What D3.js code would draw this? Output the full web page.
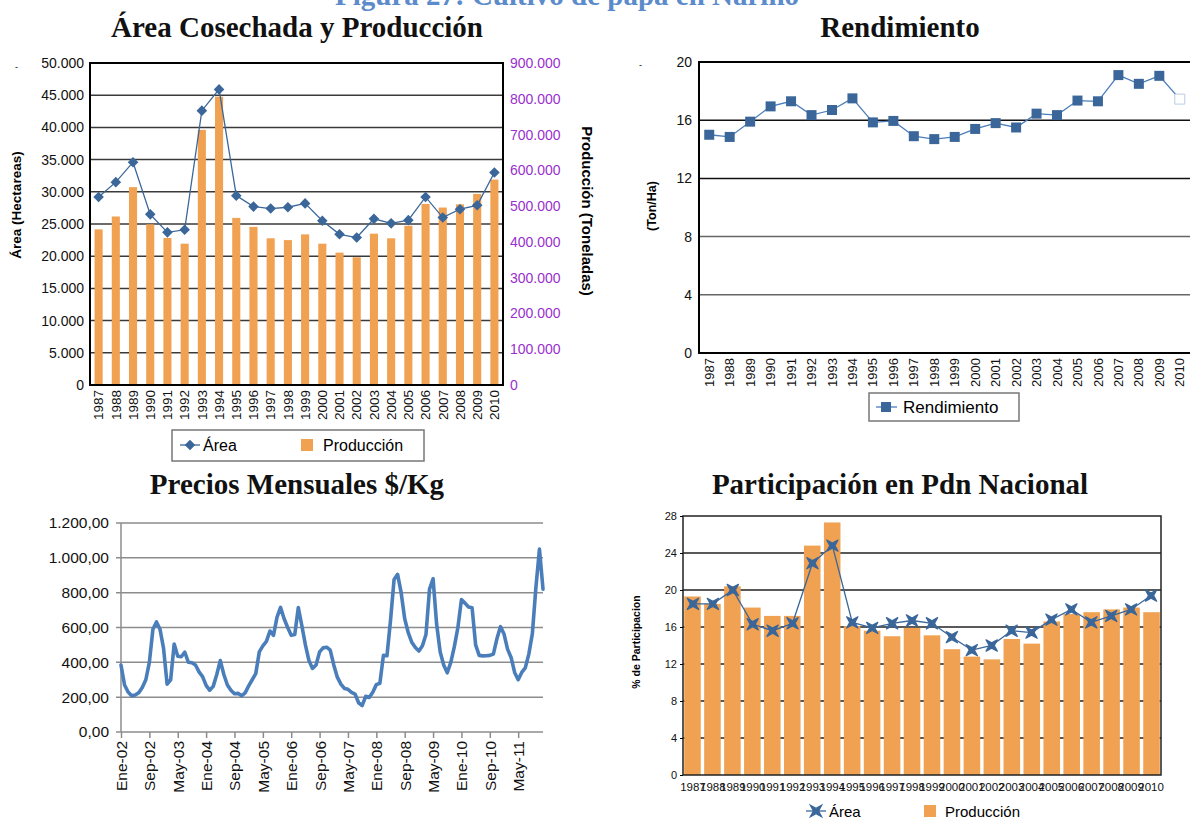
<!DOCTYPE html>
<html><head><meta charset="utf-8">
<script src="https://cdn.jsdelivr.net/npm/d3@7"></script>
<style>body{margin:0;background:#fff}svg{display:block}</style>
</head><body>
<svg id="c" width="1190" height="820"></svg>
<script>
// ---------- DATA ----------
const years = ["1987","1988","1989","1990","1991","1992","1993","1994","1995","1996","1997","1998",
  "1999","2000","2001","2002","2003","2004","2005","2006","2007","2008","2009","2010"];
const areaHa = [29200,31500,34600,26500,23700,24100,42600,45900,29400,27700,27400,27600,
  28200,25500,23400,22900,25800,25100,25600,29200,26000,27300,27900,33000];
const produccionTon = [435000,471000,553000,449000,411000,395000,713000,806000,467000,442000,410000,405000,
  421000,395000,370000,357000,423000,410000,445000,506000,496000,505000,534000,574000];
const rendimiento = [15.0,14.85,15.9,16.95,17.3,16.35,16.7,17.5,15.85,15.95,14.9,14.7,
  14.85,15.4,15.8,15.5,16.45,16.35,17.35,17.3,19.1,18.5,19.05,17.45];
const partProduccion = [19.3,18.5,20.4,18.1,17.2,17.2,24.8,27.3,16.1,15.6,15.0,15.9,
  15.1,13.6,12.8,12.5,14.7,14.2,16.6,17.4,17.6,17.9,18.1,17.6];
const partArea = [18.5,18.5,20.0,16.3,15.6,16.4,22.9,24.8,16.5,15.9,16.4,16.7,
  16.4,14.9,13.5,14.0,15.6,15.4,16.8,17.9,16.5,17.2,17.9,19.4];
const mesesAbr = ["Ene","Feb","Mar","Abr","May","Jun","Jul","Ago","Sep","Oct","Nov","Dic"];
const aniosPrecio = ["02","03","04","05","06","07","08","09","10","11"];
const precios = [385,270,230,208,212,225,255,300,400,590,632,590,480,275,300,505,435,432,458,400,
  398,385,345,318,268,240,262,330,410,330,270,240,220,222,208,225,265,300,335,460,
  495,520,580,555,660,715,650,600,555,560,715,610,500,410,365,385,460,483,487,470,
  385,315,275,250,245,228,218,168,152,205,198,228,272,280,440,438,640,875,905,800,
  650,570,515,485,465,495,560,820,880,620,460,385,340,400,490,600,760,740,718,714,
  500,440,437,438,440,447,535,605,563,476,428,342,300,342,368,447,565,830,1050,820];
const precioTicks = ["Ene-02","Sep-02","May-03","Ene-04","Sep-04","May-05","Ene-06","Sep-06",
  "May-07","Ene-08","Sep-08","May-09","Ene-10","Sep-10","May-11"];
const ticksArea = [0,5000,10000,15000,20000,25000,30000,35000,40000,45000,50000];
const ticksProd = [0,100000,200000,300000,400000,500000,600000,700000,800000,900000];
const ticksRend = [0,4,8,12,16,20];
const ticksPrecio = [0,200,400,600,800,1000,1200];
const ticksPart = [0,4,8,12,16,20,24,28];

// ---------- SETUP ----------
const meses = [];
aniosPrecio.forEach(a => mesesAbr.forEach(m => meses.push(m + "-" + a)));
const svg = d3.select("#c");
const SANS = "'Liberation Sans', Arial, sans-serif";
const SERIF = "'Liberation Serif', 'Times New Roman', serif";
const loc = d3.formatLocale({decimal: ",", thousands: ".", grouping: [3], currency: ["$", ""]});
const fmtInt = loc.format(",");
const fmtDec = loc.format(",.2f");
const ORANGE = "#F0A252", BLUE = "#3A6699", LBLUE = "#4A7EBB", PURPLE = "#9A2FCF";

function title(txt, x, y, size, color) {
  svg.append("text").attr("x", x).attr("y", y).attr("text-anchor", "middle")
    .style("font-family", SERIF).style("font-weight", "bold").style("font-size", size + "px")
    .attr("fill", color || "#111").text(txt);
}
title("Figura 27: Cultivo de papa en Nariño", 567, 5, 29, "#5B8BCB");
title("Área Cosechada y Producción", 297, 37, 29);
title("Rendimiento", 900, 37, 29);
title("Precios Mensuales $/Kg", 297, 494, 29);
title("Participación en Pdn Nacional", 900, 494, 29);
svg.append("text").attr("x", 15).attr("y", 70).style("font", `9px ${SANS}`).text("-");
svg.append("text").attr("x", 639).attr("y", 68).style("font", `9px ${SANS}`).text("-");

function hideDomain(g) { g.select(".domain").remove(); }

// ---------- PANEL 1 ----------
{
  const L = 90, R = 503, T = 63, B = 385;
  const x = d3.scaleBand().domain(years).range([L, R]);
  const bw = x.bandwidth();
  const yA = d3.scaleLinear().domain([0, 50000]).range([B, T]);
  const yP = d3.scaleLinear().domain([0, 900000]).range([B, T]);
  const g = svg.append("g");
  g.selectAll("line.grid").data(ticksArea.slice(1, -1)).join("line")
    .attr("x1", L).attr("x2", R).attr("y1", d => yA(d)).attr("y2", d => yA(d))
    .attr("stroke", "#3a3a3a").attr("stroke-width", 1.5);
  const barW = bw * 0.47;
  g.selectAll("rect.bar").data(produccionTon).join("rect")
    .attr("x", (d, i) => x(years[i]) + (bw - barW) / 2).attr("width", barW)
    .attr("y", d => yP(d)).attr("height", d => B - yP(d)).attr("fill", ORANGE);
  g.append("rect").attr("x", L).attr("y", T).attr("width", R - L).attr("height", B - T)
    .attr("fill", "none").attr("stroke", "#000").attr("stroke-width", 2);
  g.append("g").attr("transform", `translate(${L},0)`)
    .call(d3.axisLeft(yA).tickValues(ticksArea).tickSize(0).tickPadding(6).tickFormat(fmtInt))
    .call(hideDomain).selectAll("text").style("font", `14px ${SANS}`).attr("fill", "#111");
  g.append("g").attr("transform", `translate(${R},0)`)
    .call(d3.axisRight(yP).tickValues(ticksProd).tickSize(0).tickPadding(7).tickFormat(fmtInt))
    .call(hideDomain).selectAll("text").style("font", `14px ${SANS}`).attr("fill", PURPLE);
  const xa = g.append("g").attr("transform", `translate(0,${B})`)
    .call(d3.axisBottom(x).tickSize(0)).call(hideDomain);
  xa.selectAll("text").attr("transform", "rotate(-90)").attr("x", -5).attr("y", 0)
    .attr("dy", "0.35em").style("text-anchor", "end").style("font", `13.5px ${SANS}`).attr("fill", "#111");
  g.append("text").attr("transform", `translate(21,205) rotate(-90)`).attr("text-anchor", "middle")
    .style("font", `bold 13.5px ${SANS}`).text("Área (Hectareas)");
  g.append("text").attr("transform", `translate(582,211) rotate(90)`).attr("text-anchor", "middle")
    .style("font", `bold 15px ${SANS}`).text("Producción (Toneladas)");
  const line = d3.line().x((d, i) => x(years[i]) + bw / 2).y(d => yA(d));
  g.append("path").datum(areaHa).attr("d", line).attr("fill", "none").attr("stroke", BLUE).attr("stroke-width", 1.3);
  const dia = d3.symbol(d3.symbolSquare, 56)();
  g.selectAll("path.mk").data(areaHa).join("path").attr("d", dia)
    .attr("transform", (d, i) => `translate(${x(years[i]) + bw / 2},${yA(d)}) rotate(45)`)
    .attr("fill", BLUE);
  // legend
  const lg = g.append("g");
  lg.append("rect").attr("x", 172).attr("y", 430).attr("width", 252).attr("height", 31)
    .attr("fill", "#fff").attr("stroke", "#777").attr("stroke-width", 1.5);
  lg.append("line").attr("x1", 180).attr("x2", 200).attr("y1", 445).attr("y2", 445).attr("stroke", BLUE).attr("stroke-width", 1.3);
  lg.append("path").attr("d", dia).attr("transform", "translate(190,445) rotate(45)").attr("fill", BLUE);
  lg.append("text").attr("x", 203).attr("y", 451).style("font", `16px ${SANS}`).text("Área");
  lg.append("rect").attr("x", 301).attr("y", 439).attr("width", 12).attr("height", 12).attr("fill", ORANGE);
  lg.append("text").attr("x", 323).attr("y", 451).style("font", `16px ${SANS}`).text("Producción");
}

// ---------- PANEL 2 ----------
{
  const L = 699, R = 1190, T = 62, B = 353;
  const x = d3.scaleBand().domain(years).range([L, R]);
  const bw = x.bandwidth();
  const y = d3.scaleLinear().domain([0, 20]).range([B, T]);
  const g = svg.append("g");
  g.selectAll("line.grid").data(ticksRend.slice(1, -1)).join("line")
    .attr("x1", L).attr("x2", R).attr("y1", d => y(d)).attr("y2", d => y(d))
    .attr("stroke", d => d >= 12 ? "#111" : "#666").attr("stroke-width", 1.5);
  g.append("rect").attr("x", L).attr("y", T).attr("width", R - L + 2).attr("height", B - T)
    .attr("fill", "none").attr("stroke", "#000").attr("stroke-width", 2);
  g.append("g").attr("transform", `translate(${L},0)`)
    .call(d3.axisLeft(y).tickValues(ticksRend).tickSize(0).tickPadding(7))
    .call(hideDomain).selectAll("text").style("font", `14px ${SANS}`).attr("fill", "#111");
  const xa = g.append("g").attr("transform", `translate(0,${B})`)
    .call(d3.axisBottom(x).tickSize(0)).call(hideDomain);
  xa.selectAll("text").attr("transform", "rotate(-90)").attr("x", -5).attr("y", 0)
    .attr("dy", "0.35em").style("text-anchor", "end").style("font", `13px ${SANS}`).attr("fill", "#111");
  g.append("text").attr("transform", `translate(656,206) rotate(-90)`).attr("text-anchor", "middle")
    .style("font", `bold 12.5px ${SANS}`).text("(Ton/Ha)");
  const line = d3.line().x((d, i) => x(years[i]) + bw / 2).y(d => y(d));
  g.append("path").datum(rendimiento).attr("d", line).attr("fill", "none").attr("stroke", LBLUE).attr("stroke-width", 1.3);
  const sq = d3.symbol(d3.symbolSquare, 100)();
  const last = rendimiento.length - 1;
  g.selectAll("path.mk").data(rendimiento).join("path").attr("d", sq)
    .attr("transform", (d, i) => `translate(${x(years[i]) + bw / 2},${y(d)})`)
    .attr("fill", (d, i) => i === last ? "#fff" : BLUE)
    .attr("stroke", (d, i) => i === last ? "#B9CDE5" : "none");
  const lg = g.append("g");
  lg.append("rect").attr("x", 869).attr("y", 393).attr("width", 150).attr("height", 28)
    .attr("fill", "#fff").attr("stroke", "#777").attr("stroke-width", 1.5);
  lg.append("line").attr("x1", 876).attr("x2", 897).attr("y1", 407).attr("y2", 407).attr("stroke", LBLUE).attr("stroke-width", 1.3);
  lg.append("path").attr("d", sq).attr("transform", "translate(886,407)").attr("fill", BLUE);
  lg.append("text").attr("x", 903).attr("y", 413).style("font", `17px ${SANS}`).text("Rendimiento");
}

// ---------- PANEL 3 ----------
{
  const L = 121, R = 543, T = 523, B = 732;
  const x = d3.scalePoint().domain(meses).range([L, R]);
  const y = d3.scaleLinear().domain([0, 1200]).range([B, T]);
  const g = svg.append("g");
  g.selectAll("line.grid").data(ticksPrecio).join("line")
    .attr("x1", L - 5).attr("x2", R).attr("y1", d => y(d)).attr("y2", d => y(d))
    .attr("stroke", "#8c8c8c").attr("stroke-width", 1.5);
  g.append("line").attr("x1", L).attr("x2", L).attr("y1", T).attr("y2", B).attr("stroke", "#8c8c8c").attr("stroke-width", 1.5);
  g.append("g").attr("transform", `translate(${L - 5},0)`)
    .call(d3.axisLeft(y).tickValues(ticksPrecio).tickSize(0).tickPadding(7).tickFormat(fmtDec))
    .call(hideDomain).selectAll("text").style("font", `15.5px ${SANS}`).attr("fill", "#111");
  const xa = g.append("g").attr("transform", `translate(0,${B})`)
    .call(d3.axisBottom(x).tickValues(precioTicks).tickSize(6)).call(hideDomain);
  xa.selectAll("line").attr("stroke", "#8c8c8c").attr("stroke-width", 1.5);
  xa.selectAll("text").attr("transform", "rotate(-90)").attr("x", -9).attr("y", 0)
    .attr("dy", "0.35em").style("text-anchor", "end").style("font", `15.5px ${SANS}`).attr("fill", "#111");
  const line = d3.line().x((d, i) => x(meses[i])).y(d => y(d));
  g.append("path").datum(precios).attr("d", line).attr("fill", "none").attr("stroke", LBLUE)
    .attr("stroke-width", 3.6).attr("stroke-linejoin", "round").attr("stroke-linecap", "round");
}

// ---------- PANEL 4 ----------
{
  const L = 683, R = 1161, T = 516, B = 775;
  const x = d3.scaleBand().domain(years).range([L, R]).paddingInner(0.17).paddingOuter(0.06);
  const xc = d3.scaleBand().domain(years).range([L, R]);
  const y = d3.scaleLinear().domain([0, 28]).range([B, T]);
  const g = svg.append("g");
  g.selectAll("line.grid").data(ticksPart.slice(1, -1)).join("line")
    .attr("x1", L).attr("x2", R).attr("y1", d => y(d)).attr("y2", d => y(d))
    .attr("stroke", "#222").attr("stroke-width", 1.3);
  g.selectAll("rect.bar").data(partProduccion).join("rect")
    .attr("x", (d, i) => x(years[i])).attr("width", x.bandwidth())
    .attr("y", d => y(d)).attr("height", d => B - y(d)).attr("fill", ORANGE);
  g.append("rect").attr("x", L).attr("y", T).attr("width", R - L).attr("height", B - T)
    .attr("fill", "none").attr("stroke", "#222").attr("stroke-width", 1.5);
  g.append("g").attr("transform", `translate(${L},0)`)
    .call(d3.axisLeft(y).tickValues(ticksPart).tickSize(3).tickPadding(3))
    .call(hideDomain).selectAll("text").style("font", `11px ${SANS}`).attr("fill", "#111");
  const xa = g.append("g").attr("transform", `translate(0,${B})`)
    .call(d3.axisBottom(xc).tickSize(0).tickPadding(8)).call(hideDomain);
  xa.selectAll("text").style("font", `11.5px ${SANS}`).attr("fill", "#111");
  g.append("text").attr("transform", `translate(640,642) rotate(-90)`).attr("text-anchor", "middle")
    .style("font", `bold 10.5px ${SANS}`).text("% de Participacion");
  const bw = xc.bandwidth();
  const line = d3.line().x((d, i) => xc(years[i]) + bw / 2).y(d => y(d));
  g.append("path").datum(partArea).attr("d", line).attr("fill", "none").attr("stroke", BLUE).attr("stroke-width", 1.3);
  const star = (() => {
    const pts = [];
    for (let k = 0; k < 8; k++) {
      const a = Math.PI / 4 + k * Math.PI / 4;
      const r = k % 2 === 0 ? 8 : 2.6;
      pts.push([r * Math.cos(a), r * Math.sin(a)]);
    }
    return "M" + pts.map(p => p.join(",")).join("L") + "Z";
  })();
  g.selectAll("path.mk").data(partArea).join("path").attr("d", star)
    .attr("transform", (d, i) => `translate(${xc(years[i]) + bw / 2},${y(d)})`)
    .attr("fill", BLUE).attr("stroke", BLUE).attr("stroke-width", 1.2).attr("stroke-linejoin", "round");
  const lg = g.append("g");
  lg.append("line").attr("x1", 806).attr("x2", 826).attr("y1", 811).attr("y2", 811).attr("stroke", BLUE).attr("stroke-width", 1.3);
  lg.append("path").attr("d", star).attr("transform", "translate(816,811)").attr("fill", BLUE).attr("stroke", BLUE).attr("stroke-width", 1.2);
  lg.append("text").attr("x", 829).attr("y", 817).style("font", `15px ${SANS}`).text("Área");
  lg.append("rect").attr("x", 924).attr("y", 805).attr("width", 12).attr("height", 12).attr("fill", ORANGE);
  lg.append("text").attr("x", 945).attr("y", 817).style("font", `15px ${SANS}`).text("Producción");
}
</script>
</body></html>
